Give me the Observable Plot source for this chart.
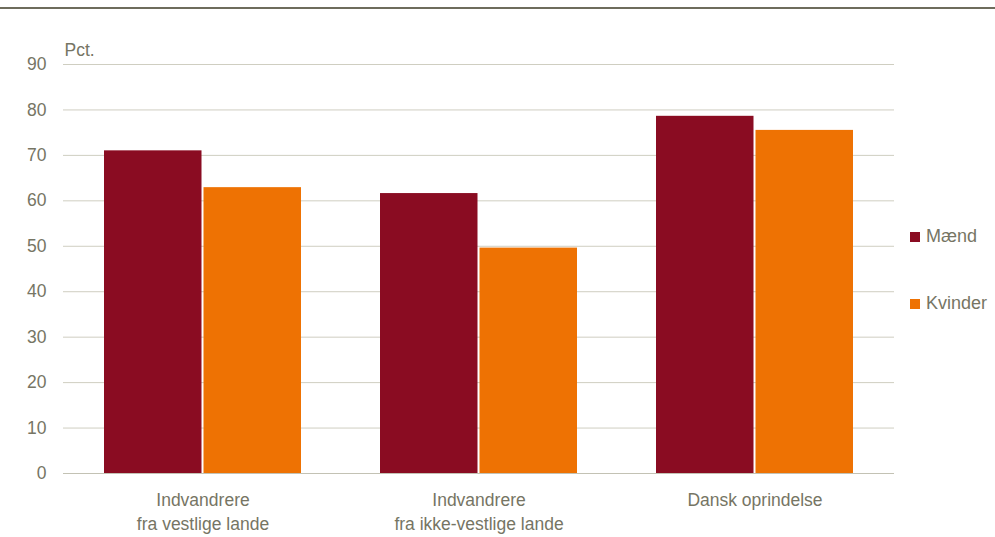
<!DOCTYPE html>
<html>
<head>
<meta charset="utf-8">
<script src="https://cdn.jsdelivr.net/npm/d3@7"></script>
<script src="https://cdn.jsdelivr.net/npm/@observablehq/plot@0.6"></script>
<style>
  html, body { margin: 0; padding: 0; background: #fff; }
  #wrap { position: relative; width: 995px; height: 537px; font-family: "Liberation Sans", Arial, sans-serif; }
  #topline { position: absolute; left: 0; top: 7px; width: 995px; height: 2px; background: #6e6c5c; z-index: 2; }
  #legend { position: absolute; left: 910px; top: 0; font-size: 18px; color: #767564; z-index: 2; }
  .item { position: absolute; left: 0; white-space: nowrap; display: flex; align-items: center; }
  .sw { width: 10px; height: 10px; margin-right: 6px; }
  svg { position: absolute; left: 0; top: 0; }
</style>
</head>
<body>
<div id="wrap">
  <div id="topline"></div>
  <div id="legend"></div>
</div>
<script>
const groups = ["Indvandrere\nfra vestlige lande", "Indvandrere\nfra ikke-vestlige lande", "Dansk oprindelse"];
const series = ["Mænd", "Kvinder"];
const maend = [71, 61.6, 78.6];
const kvinder = [62.9, 49.6, 75.5];
const yTicks = [0, 10, 20, 30, 40, 50, 60, 70, 80, 90];
const colors = ["#8a0c22", "#ee7203"];
const yLabel = "Pct.";

const rowsM = groups.map((g, i) => ({group: g, sex: series[0], value: maend[i]}));
const rowsK = groups.map((g, i) => ({group: g, sex: series[1], value: kvinder[i]}));

const font = '"Liberation Sans", Arial, sans-serif';
const grey = "#767564";
const fs = 17.5;

const chart = Plot.plot({
  width: 995,
  height: 537,
  marginTop: 64,
  marginBottom: 64,
  marginLeft: 63,
  marginRight: 101,
  style: {fontFamily: font, fontSize: fs + "px", color: grey, background: "transparent", overflow: "visible"},
  x: {domain: groups, paddingInner: 0.287, paddingOuter: 0.148, label: null},
  y: {domain: [0, 90], label: null},
  color: {domain: series, range: colors},
  marks: [
    Plot.gridY(yTicks.filter(d => d > 0), {stroke: "#cfcec1", strokeOpacity: 1, strokeWidth: 1}),
    Plot.ruleY([0], {stroke: "#c3c2b4", strokeWidth: 1}),
    Plot.barY(rowsM, {x: "group", y: "value", fill: "sex", insetRight: 99.5, insetLeft: 0}),
    Plot.barY(rowsK, {x: "group", y: "value", fill: "sex", insetLeft: 99.5, insetRight: 0}),
    Plot.axisY(yTicks, {tickSize: 0, tickPadding: 17, label: null, fontSize: fs, fill: grey}),
    Plot.text([yLabel], {text: d => d, frameAnchor: "top-left", dy: -21, dx: 1, textAnchor: "start", fill: grey, fontSize: fs}),
    Plot.axisX({tickSize: 0, tickPadding: 16, label: null, fontSize: fs, lineHeight: 1.36, fill: grey})
  ]
});
document.getElementById("wrap").appendChild(chart);

const legend = document.getElementById("legend");
const legendTops = [226, 293];
series.forEach((s, i) => {
  const item = document.createElement("div");
  item.className = "item";
  item.style.top = legendTops[i] + "px";
  const sw = document.createElement("span");
  sw.className = "sw";
  sw.style.background = colors[i];
  const t = document.createElement("span");
  t.textContent = s;
  item.appendChild(sw);
  item.appendChild(t);
  legend.appendChild(item);
});
</script>
</body>
</html>
